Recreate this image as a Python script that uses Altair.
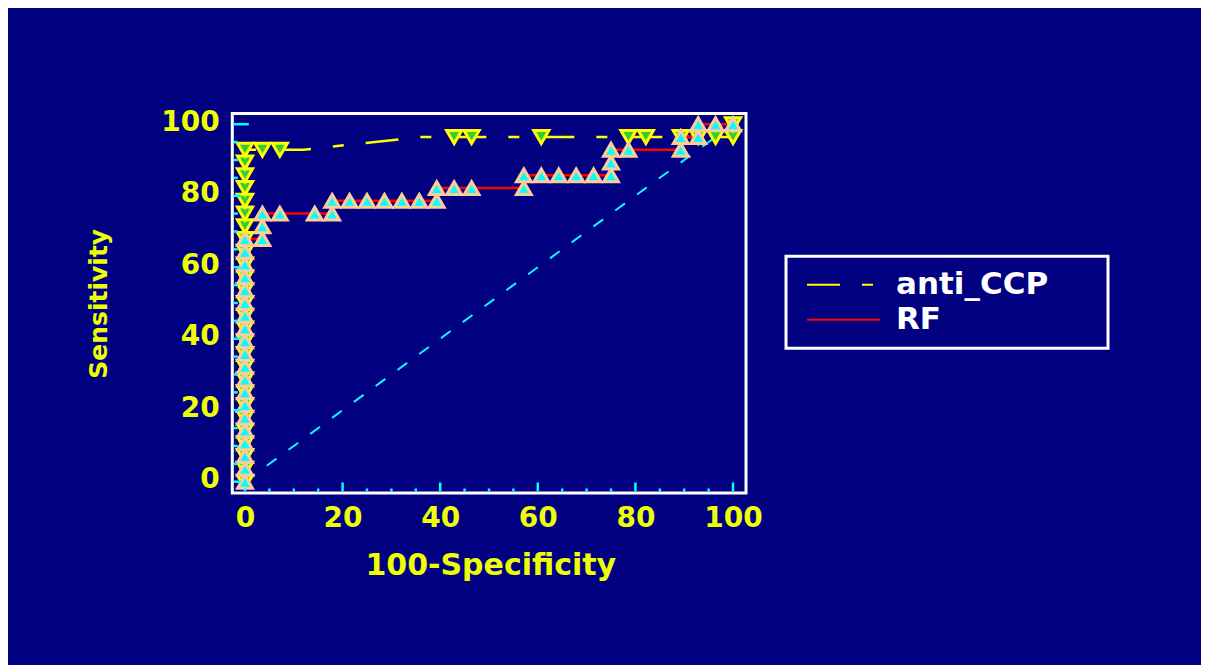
import altair as alt
import pandas as pd

# ---------------- data ----------------
# ROC curve vertices (100-Specificity, Sensitivity)
anti_line_x = [0, 0, 12.0, 36.0, 100, 100]
anti_line_y = [0, 92.86, 92.86, 96.43, 96.43, 100]

rf_line_x = [0, 0, 3.57, 3.57, 17.86, 17.86, 39.29, 39.29, 57.14, 57.14,
             75.0, 75.0, 89.29, 89.29, 92.86, 92.86, 100]
rf_line_y = [0, 67.86, 67.86, 75.0, 75.0, 78.57, 78.57, 82.14, 82.14, 85.71,
             85.71, 92.86, 92.86, 96.43, 96.43, 100, 100]

# criterion points (markers)
anti_pt_x = [0, 0, 0, 0, 0, 0, 0, 0, 0, 0, 0, 0, 0, 0, 0, 0, 0, 0, 0, 0, 0, 0, 0, 0, 0, 0, 0,
             3.57, 7.14, 42.86, 46.43, 60.71, 78.57, 82.14, 89.29, 92.86, 96.43, 100, 100]
anti_pt_y = [0, 3.57, 7.14, 10.71, 14.29, 17.86, 21.43, 25.0, 28.57, 32.14, 35.71, 39.29,
             42.86, 46.43, 50.0, 53.57, 57.14, 60.71, 64.29, 67.86, 71.43, 75.0, 78.57,
             82.14, 85.71, 89.29, 92.86,
             92.86, 92.86, 96.43, 96.43, 96.43, 96.43, 96.43, 96.43, 96.43, 96.43, 96.43, 100]

rf_pt_x = [0, 0, 0, 0, 0, 0, 0, 0, 0, 0, 0, 0, 0, 0, 0, 0, 0, 0, 0, 0,
           3.57, 3.57, 3.57, 7.14, 14.29, 17.86, 17.86, 21.43, 25.0, 28.57, 32.14, 35.71,
           39.29, 39.29, 42.86, 46.43, 57.14, 57.14, 60.71, 64.29, 67.86, 71.43, 75.0,
           75.0, 75.0, 78.57, 89.29, 89.29, 92.86, 92.86, 96.43, 100]
rf_pt_y = [0, 3.57, 7.14, 10.71, 14.29, 17.86, 21.43, 25.0, 28.57, 32.14, 35.71, 39.29,
           42.86, 46.43, 50.0, 53.57, 57.14, 60.71, 64.29, 67.86,
           67.86, 71.43, 75.0, 75.0, 75.0, 75.0, 78.57, 78.57, 78.57, 78.57, 78.57, 78.57,
           78.57, 82.14, 82.14, 82.14, 82.14, 85.71, 85.71, 85.71, 85.71, 85.71, 85.71,
           89.29, 92.86, 92.86, 92.86, 96.43, 96.43, 100, 100, 100]

diag_x = [0, 100]
diag_y = [0, 100]

series_names = ["anti_CCP", "RF"]
label_values = [0, 20, 40, 60, 80, 100]
tick_values = [0, 5, 10, 15, 20, 25, 30, 35, 40, 45, 50, 55, 60, 65, 70, 75, 80, 85, 90, 95, 100]

# ---------------- styling ----------------
NAVY = "#000080"
YEL = "#EEFF00"
FONT = "DejaVu Sans"
W, H = 513.7, 379.5
TOTAL_W, TOTAL_H = 1193, 657

lines_df = pd.concat([
    pd.DataFrame({"x": anti_line_x, "y": anti_line_y, "series": series_names[0],
                  "i": list(range(len(anti_line_x)))}),
    pd.DataFrame({"x": rf_line_x, "y": rf_line_y, "series": series_names[1],
                  "i": list(range(len(rf_line_x)))}),
])
anti_df = pd.DataFrame({"x": anti_pt_x, "y": anti_pt_y})
rf_df = pd.DataFrame({"x": rf_pt_x, "y": rf_pt_y})
diag_df = pd.DataFrame({"x": diag_x, "y": diag_y, "i": [0, 1]})
xt_df = pd.DataFrame({"x": tick_values})
yt_df = pd.DataFrame({"y": tick_values})

xscale = alt.Scale(domain=[-2.6, 102.66], nice=False, zero=False)
yscale = alt.Scale(domain=[-3.16, 103.0], nice=False, zero=False)

xaxis = alt.Axis(values=label_values, title="100-Specificity", grid=False, ticks=False,
                 tickSize=0, domain=False, labelFont=FONT, labelFontWeight="bold",
                 labelFontSize=28, labelColor=YEL, labelPadding=25, labelBaseline="middle",
                 labelFlush=False, labelAngle=0, labelOverlap=False,
                 titleFont=FONT, titleFontWeight="bold", titleFontSize=30, titleColor=YEL,
                 titleX=258, titleY=72, titleBaseline="middle", titleAlign="center")
yaxis = alt.Axis(values=label_values, title="Sensitivity", grid=False, ticks=False,
                 tickSize=0, domain=False, labelFont=FONT, labelFontWeight="bold",
                 labelFontSize=28, labelColor=YEL, labelPadding=13, labelOffset=-2,
                 labelBaseline="middle", labelOverlap=False,
                 titleFont=FONT, titleFontWeight="bold", titleFontSize=25, titleColor=YEL,
                 titleX=-134, titleY=H / 2, titleAngle=270, titleBaseline="middle",
                 titleAlign="center")


def X():
    return alt.X("x:Q", scale=xscale, axis=xaxis)


def Y():
    return alt.Y("y:Q", scale=yscale, axis=yaxis)


# a blank (non-whitespace) braille cell widens the legend box to the reference width
leg = alt.Legend(title=None, orient="none", legendX=553.7, legendY=142.8,
                 direction="vertical", symbolType="stroke", symbolSize=5329,
                 symbolStrokeWidth=2, clipHeight=35, rowPadding=0,
                 labelFont=FONT, labelFontSize=31, labelFontWeight="bold",
                 labelColor="white", labelOffset=15, padding=11, symbolOffset=9,
                 labelLimit=500, strokeColor="white", fillColor=NAVY,
                 labelExpr="datum.label + '\u2800\u2800'")

diag = alt.Chart(diag_df).mark_line(color="#00FFFF", strokeWidth=2, strokeDash=[12, 15]).encode(
    x=X(), y=Y(), order="i:Q")

lines = alt.Chart(lines_df).mark_line(strokeWidth=2.5, strokeDashOffset=75).encode(
    x=X(), y=Y(), order="i:Q",
    color=alt.Color("series:N", scale=alt.Scale(domain=series_names, range=["#FFFF00", "#FF0000"]),
                    legend=leg),
    strokeDash=alt.StrokeDash("series:N", scale=alt.Scale(domain=series_names,
                                                           range=[[33, 22, 11, 22], [1, 0]]),
                              legend=leg),
)

anti_pts = alt.Chart(anti_df).mark_point(shape="triangle-down", fill="#33CC33", stroke="#FFFF00",
                                         strokeWidth=3, size=230, opacity=1,
                                         fillOpacity=1).encode(x=X(), y=Y())
rf_pts = alt.Chart(rf_df).mark_point(shape="triangle-up", fill="#00FFFF", stroke="#FFCC99",
                                     strokeWidth=3, size=220, opacity=1,
                                     fillOpacity=1).encode(x=X(), y=Y())

TC = "#00FFFF"
left_minor = alt.Chart(yt_df).transform_filter("datum.y % 20 != 0").mark_rule(
    color=TC, strokeWidth=2.5).encode(y=Y(), x=alt.value(1.5), x2=alt.value(5.5))
left_major = alt.Chart(yt_df).transform_filter("datum.y % 20 == 0 && datum.y < 100").mark_rule(
    color=TC, strokeWidth=2.5).encode(y=Y(), x=alt.value(1.5), x2=alt.value(8.5))
left_top = alt.Chart(yt_df).transform_filter("datum.y == 100").mark_rule(
    color=TC, strokeWidth=2.5).encode(y=Y(), x=alt.value(1.5), x2=alt.value(16.5))
bot_minor = alt.Chart(xt_df).transform_filter("datum.x % 20 != 0 || datum.x == 0").mark_rule(
    color=TC, strokeWidth=2.5).encode(x=X(), y=alt.value(H - 1.5), y2=alt.value(H - 4.5))
bot_major = alt.Chart(xt_df).transform_filter("datum.x % 20 == 0 && datum.x > 0").mark_rule(
    color=TC, strokeWidth=2.5).encode(x=X(), y=alt.value(H - 1.5), y2=alt.value(H - 10.5))

chart = alt.layer(diag, lines, anti_pts, rf_pts, left_minor, left_major, left_top,
                  bot_minor, bot_major).properties(
    width=W, height=H, background=NAVY,
    padding={"left": 224.3, "top": 105.5, "right": TOTAL_W - 224.3 - W,
             "bottom": TOTAL_H - 105.5 - H},
    autosize=alt.AutoSizeParams(type="none"),
).configure_view(stroke="white", strokeWidth=3, fill=NAVY).configure_legend(strokeWidth=3)

chart.save("out.html", embed_options={"renderer": "svg", "actions": False})
